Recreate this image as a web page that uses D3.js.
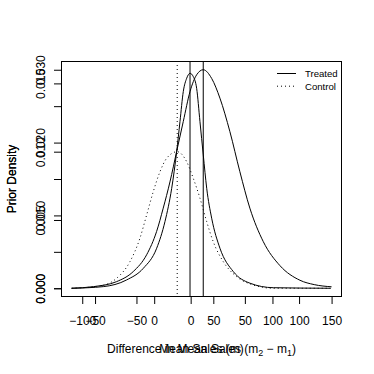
<!DOCTYPE html>
<html>
<head>
<meta charset="utf-8">
<script src="https://cdn.jsdelivr.net/npm/d3@7"></script>
<style>
  body { margin: 0; background: #fff; }
  text { font-family: "Liberation Sans", Arial, Helvetica, sans-serif; fill: #000; }
</style>
</head>
<body>
<div id="chart"></div>
<script>
// two R plots drawn on top of each other (par(new=TRUE) style)

// plot 1: prior of the mean sales, treated vs control
var meanRangeX = [-110, 130];
var meanRangeY = [0, 0.030];
var meanXTicks = [-100, -50, 0, 50, 100];
var meanYTicks = [0, 0.005, 0.010, 0.015, 0.020, 0.025, 0.030];
var meanYLabels = [0, 0.010, 0.020, 0.030];

var treatedX = [-109.8, -89.8, -68.3, -52.9, -40.6, -31.4, -25.3, -19.1, -12.9, -6.8, -0.6, 5.5, 11.6, 19.4, 27.0, 36.2, 45.4, 54.6, 67.0, 82.4, 100.8, 114, 130];
var treatedY = [0, 0.00022, 0.00091, 0.0023, 0.0046, 0.0078, 0.0110, 0.0146, 0.0188, 0.0229, 0.0270, 0.0293, 0.0300, 0.0288, 0.0261, 0.0215, 0.0160, 0.0110, 0.0064, 0.0031, 0.0011, 0.0005, 0.0002];

var controlX = [-109.8, -83.7, -68.3, -56.0, -46.8, -40.6, -34.5, -28.3, -22.1, -12.4, -3.7, 2.4, 8.6, 14.8, 20.8, 30.1, 42.4, 57.7, 76.2, 130];
var controlY = [0, 0.00032, 0.00137, 0.00365, 0.00687, 0.01006, 0.01326, 0.0160, 0.01785, 0.01875, 0.01738, 0.0151, 0.01236, 0.00914, 0.0064, 0.00365, 0.00159, 0.00045, 0, 0];

var treatedMean = 11.6;
var controlMean = -12.4;

// plot 2: prior of the difference m2 - m1
var diffRangeX = [-70, 150];
var diffRangeY = [0, 0.016];
var diffXTicks = [-50, 0, 50, 100, 150];
var diffYTicks = [0, 0.005, 0.010, 0.015];

var diffX = [-69.8, -43.0, -23.3, -9.2, 2.1, 9.1, 14.8, 19.0, 21.8, 24.6, 27.5, 30.3, 33.1, 35.9, 38.7, 41.5, 44.4, 48.6, 55.6, 66.9, 81.0, 100.7, 149];
var diffY = [0, 0.00012, 0.00061, 0.00146, 0.00293, 0.00488, 0.00732, 0.0100, 0.0122, 0.0144, 0.01538, 0.01574, 0.01549, 0.01464, 0.0122, 0.00976, 0.00732, 0.00513, 0.00293, 0.00122, 0.00037, 0.00004, 0];
var diffMean = 30.3;

var legendLabels = ["Treated", "Control"];

var W = 374, H = 374;
var box = {left: 61, top: 61, right: 342, bottom: 297};

var svg = d3.select("#chart").append("svg")
    .attr("width", W)
    .attr("height", H);

// R pads the data range by 4% on each side
function pad(r) {
    var e = (r[1] - r[0]) * 0.04;
    return [r[0] - e, r[1] + e];
}

function drawPlot(rx, ry, xTicks, yTicks, yLabels, curves, vlines, xTitle, withLegend) {
    var x = d3.scaleLinear().domain(pad(rx)).range([box.left, box.right]);
    var y = d3.scaleLinear().domain(pad(ry)).range([box.bottom, box.top]);

    var xAxis = svg.append("g")
        .attr("transform", "translate(0," + box.bottom + ")")
        .call(d3.axisBottom(x).tickValues(xTicks).tickSize(7).tickPadding(12)
              .tickFormat(d3.format("d")));
    xAxis.select(".domain").remove();
    xAxis.selectAll("text").attr("font-size", 12).attr("font-family", null);

    var yAxis = svg.append("g")
        .attr("transform", "translate(" + box.left + ",0)")
        .call(d3.axisLeft(y).tickValues(yTicks).tickSize(7)
              .tickFormat(function(d) {
                  var show = yLabels.some(function(v) { return Math.abs(v - d) < 1e-9; });
                  return show ? d3.format(".3f")(d) : "";
              }));
    yAxis.select(".domain").remove();
    yAxis.selectAll("text")
        .attr("font-size", 12)
        .attr("font-family", null)
        .attr("x", null)
        .attr("dy", null)
        .attr("text-anchor", "middle")
        .attr("transform", "translate(-16,0) rotate(-90)");

    var line = d3.line()
        .x(function(d) { return x(d[0]); })
        .y(function(d) { return y(d[1]); })
        .curve(d3.curveMonotoneX);

    curves.forEach(function(c) {
        var pts = c.xs.map(function(v, i) { return [v, c.ys[i]]; });
        svg.append("path")
            .attr("d", line(pts))
            .attr("fill", "none")
            .attr("stroke", "#000")
            .attr("stroke-width", 1)
            .attr("stroke-dasharray", c.dash);
    });

    vlines.forEach(function(v) {
        svg.append("line")
            .attr("x1", x(v.value)).attr("x2", x(v.value))
            .attr("y1", box.top).attr("y2", box.bottom)
            .attr("stroke", "#000")
            .attr("stroke-width", 1)
            .attr("stroke-dasharray", v.dash);
    });

    svg.append("text")
        .attr("x", (box.left + box.right) / 2)
        .attr("y", 353)
        .attr("text-anchor", "middle")
        .attr("font-size", 12)
        .html(xTitle);

    svg.append("text")
        .attr("transform", "translate(16," + (box.top + box.bottom) / 2 + ") rotate(-90)")
        .attr("text-anchor", "middle")
        .attr("font-size", 12)
        .text("Prior Density");

    if (withLegend) {
        var lg = svg.append("g");
        legendLabels.forEach(function(lab, i) {
            var ly = 73.5 + i * 12.7;
            lg.append("line")
                .attr("x1", 277).attr("x2", 296)
                .attr("y1", ly).attr("y2", ly)
                .attr("stroke", "#000")
                .attr("stroke-dasharray", i == 0 ? null : "1,3");
            lg.append("text")
                .attr("x", 305).attr("y", ly)
                .attr("dy", "0.35em")
                .attr("font-size", 9.6)
                .text(lab);
        });
    }

    svg.append("rect")
        .attr("x", box.left + 0.5).attr("y", box.top + 0.5)
        .attr("width", box.right - box.left - 1)
        .attr("height", box.bottom - box.top - 1)
        .attr("fill", "none")
        .attr("stroke", "#000");
}

drawPlot(meanRangeX, meanRangeY, meanXTicks, meanYTicks, meanYLabels,
    [{xs: treatedX, ys: treatedY, dash: null},
     {xs: controlX, ys: controlY, dash: "1,3"}],
    [{value: treatedMean, dash: null}, {value: controlMean, dash: "1,3"}],
    "Mean Sales (m)", true);

drawPlot(diffRangeX, diffRangeY, diffXTicks, diffYTicks, diffYTicks,
    [{xs: diffX, ys: diffY, dash: null}],
    [{value: diffMean, dash: null}],
    "Difference in Mean Sales (m<tspan font-size='9' dy='3'>2</tspan><tspan dy='-3'> \u2212 m</tspan><tspan font-size='9' dy='3'>1</tspan><tspan dy='-3'>)</tspan>", false);
</script>
</body>
</html>
